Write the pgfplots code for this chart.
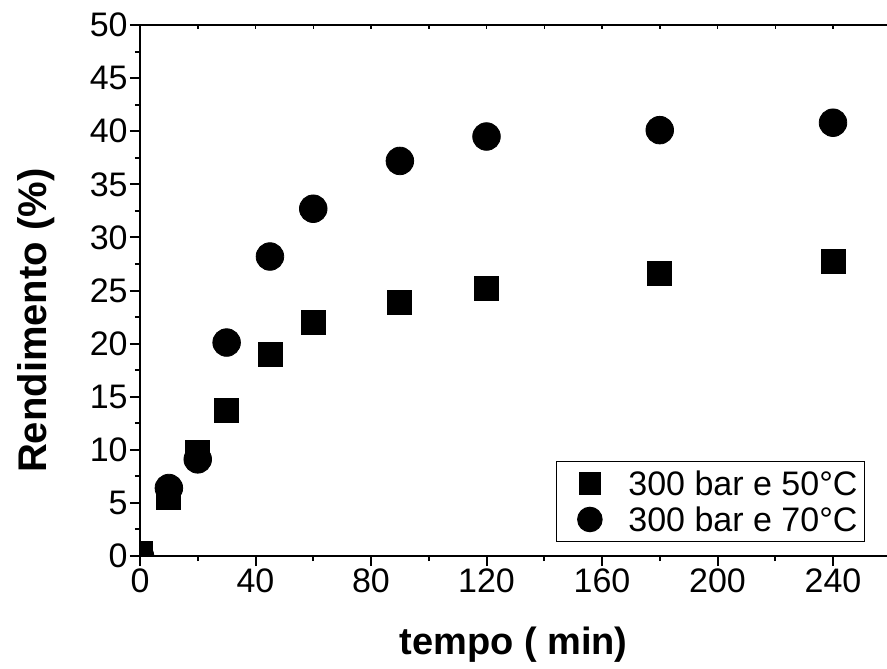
\documentclass[border=0pt]{standalone}
\usepackage{pgfplots}
\pgfplotsset{compat=1.18}
\usepackage{fontspec}
\setmainfont{Liberation Sans}

\begin{document}
\begin{tikzpicture}
\begin{axis}[
    scale only axis,
    width=373.5pt, height=265.5pt,
    xmin=0, xmax=258.7, ymin=0, ymax=50,
    axis x line*=box, axis y line*=left,
    xtick={0,40,...,240}, minor x tick num=1,
    ytick={0,5,...,50}, minor y tick num=1,
    xtick pos=bottom, ytick pos=left,
    tick align=outside,
    major tick length=5pt, minor tick length=2.5pt,
    axis line style={line width=1pt},
    tick style={line width=1pt, black},
    ticklabel style={font=\fontsize{17}{19}\selectfont, inner sep=1pt},
    /pgf/number format/assume math mode=true,
    xlabel={tempo ( min)},
    ylabel={Rendimento (\%)},
    xlabel style={font=\bfseries\fontsize{19}{22}\selectfont,
        at={(axis description cs:0.5,-0.1864)}, anchor=base},
    ylabel style={font=\bfseries\fontsize{20}{23}\selectfont,
        at={(axis description cs:-0.1258,0.443)}, anchor=base},
    clip marker paths=true,
    legend cell align=left,
    legend style={
        at={(axis description cs:0.9705,0.0264)}, anchor=south east,
        font=\fontsize{17}{19}\selectfont,
        draw=black, line width=0.5pt,
        inner xsep=2pt, inner ysep=2pt,
        nodes={inner xsep=1.5pt, inner ysep=2.8pt, text height=12.4pt, text depth=0pt}
    },
    legend image code/.code={
        \path (0pt,0pt) (32pt,0pt);
        \draw[#1, mark options={scale=0.89}] plot coordinates {(14.5pt,0pt)};
    },
]

\addplot[only marks, mark=square*, mark size=6pt,
    mark options={fill=black, draw=none}] coordinates {
    (0,0.2) (10,5.5) (20,9.8) (30,13.7) (45,19.0) (60,22.0)
    (90,23.9) (120,25.2) (180,26.6) (240,27.7)
};
\addlegendentry{300 bar e 50°C}

\addplot[only marks, mark=*, mark size=6.9pt,
    mark options={fill=black, draw=none}] coordinates {
    (0,0.0) (10,6.4) (20,9.1) (30,20.1) (45,28.2) (60,32.7)
    (90,37.2) (120,39.5) (180,40.1) (240,40.8)
};
\addlegendentry{300 bar e 70°C}
\end{axis}

\begin{axis}[
    scale only axis,
    width=373.5pt, height=265.5pt,
    xmin=0, xmax=258.7, ymin=0, ymax=50,
    axis x line*=top, axis y line=none,
    xtick={0,20,...,240}, xticklabels={},
    tick align=inside, major tick length=2pt,
    axis line style={line width=1pt},
    tick style={line width=0.75pt, black},
]
\end{axis}

\pgfresetboundingbox
\path ([xshift=-70pt,yshift=-56pt]current axis.south west)
    rectangle ([yshift=12.5pt]current axis.north east);
\end{tikzpicture}
\end{document}
